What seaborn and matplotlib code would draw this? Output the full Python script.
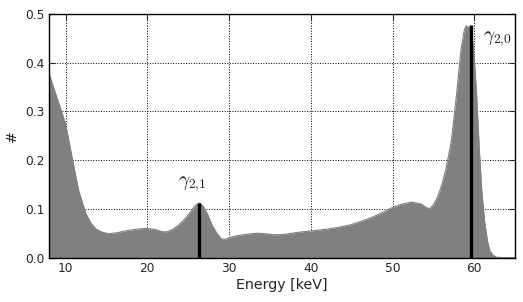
import numpy as np
import pandas as pd
import matplotlib
matplotlib.use("Agg")
import matplotlib.pyplot as plt
import seaborn as sns

# Spectrum (energy in keV, normalised counts)
energy = [8.0, 8.8, 10.0, 10.8, 11.6, 12.5, 13.1, 13.7, 14.5, 15.3, 16.3, 17.4, 18.6,
          19.8, 20.9, 21.9, 22.4, 23.0, 23.7, 24.3, 24.9, 25.5, 26.0, 26.4, 26.9,
          27.4, 27.9, 28.5, 29.1, 29.6, 30.2, 31.0, 31.8, 32.7, 33.6, 34.5, 35.4,
          36.3, 37.3, 38.5, 40.2, 41.8, 43.3, 44.8, 46.1, 47.4, 48.6, 50.0, 51.0,
          52.3, 53.5, 54.0, 54.5, 55.0, 55.5, 56.0, 56.5, 57.2, 57.8, 58.4, 58.8,
          59.0, 59.2, 59.4, 59.7, 60.0, 60.3, 60.6, 60.9, 61.25, 61.6, 61.9, 62.3,
          62.7, 63.5, 65.0]
counts = [0.377, 0.336, 0.275, 0.206, 0.138, 0.090, 0.071, 0.059, 0.052, 0.049, 0.051, 0.055, 0.058,
          0.060, 0.058, 0.053, 0.053, 0.057, 0.065, 0.074, 0.085, 0.099, 0.109, 0.112, 0.104,
          0.088, 0.068, 0.050, 0.038, 0.038, 0.042, 0.045, 0.047, 0.049, 0.050, 0.049, 0.047,
          0.047, 0.049, 0.052, 0.055, 0.058, 0.062, 0.067, 0.074, 0.082, 0.091, 0.103, 0.109,
          0.114, 0.110, 0.104, 0.100, 0.108, 0.124, 0.148, 0.179, 0.240, 0.330, 0.430, 0.468,
          0.476, 0.472, 0.474, 0.462, 0.410, 0.330, 0.227, 0.140, 0.076, 0.035, 0.014, 0.005,
          0.001, 0.0, 0.0]

line_energy = [26.34, 59.54]
line_height = [0.112, 0.478]
line_labels = [r"$\gamma_{2{,}1}$", r"$\gamma_{2{,}0}$"]
label_pos = [(23.8, 0.172), (61.1, 0.468)]

df = pd.DataFrame({"Energy": energy, "Counts": counts})

sns.set_style("white")
plt.rcParams.update({
    "mathtext.fontset": "cm",
    "xtick.direction": "in",
    "ytick.direction": "in",
    "xtick.top": True,
    "ytick.right": True,
    "xtick.bottom": True,
    "ytick.left": True,
    "xtick.major.size": 4,
    "ytick.major.size": 4,
    "axes.edgecolor": "black",
    "axes.linewidth": 1.0,
})
plt.rcParams["font.family"] = ["DejaVu Sans"]

fig, ax = plt.subplots(figsize=(5.23, 3.02), dpi=100)
fig.subplots_adjust(left=0.094, right=0.985, top=0.954, bottom=0.147)

sns.lineplot(data=df, x="Energy", y="Counts", ax=ax, color="#808080", linewidth=0.8)
ax.fill_between(df["Energy"], 0, df["Counts"], color="#808080", linewidth=0, zorder=2)

for e, h in zip(line_energy, line_height):
    ax.vlines(e, 0, h, color="black", linewidth=2.4, zorder=4)
for (lx, ly), lab in zip(label_pos, line_labels):
    ax.text(lx, ly, lab, ha="left", va="top", fontsize=14, zorder=5)

ax.set_xlim(8, 65)
ax.set_ylim(0, 0.5)
ax.set_xticks([10, 20, 30, 40, 50, 60])
ax.set_yticks([0.0, 0.1, 0.2, 0.3, 0.4, 0.5])
ax.set_yticklabels(["0.0", "0.1", "0.2", "0.3", "0.4", "0.5"])
ax.tick_params(labelsize=8.8, width=0.8, pad=3)
ax.grid(True, color="black", linestyle=":", linewidth=0.7, zorder=1)
ax.set_axisbelow(True)
ax.set_xlabel("Energy [keV]", fontsize=10.3, labelpad=2)
ax.set_ylabel("#", fontsize=10.3, labelpad=5)
for s in ax.spines.values():
    s.set_zorder(6)

fig.savefig("out.png", dpi=100)
